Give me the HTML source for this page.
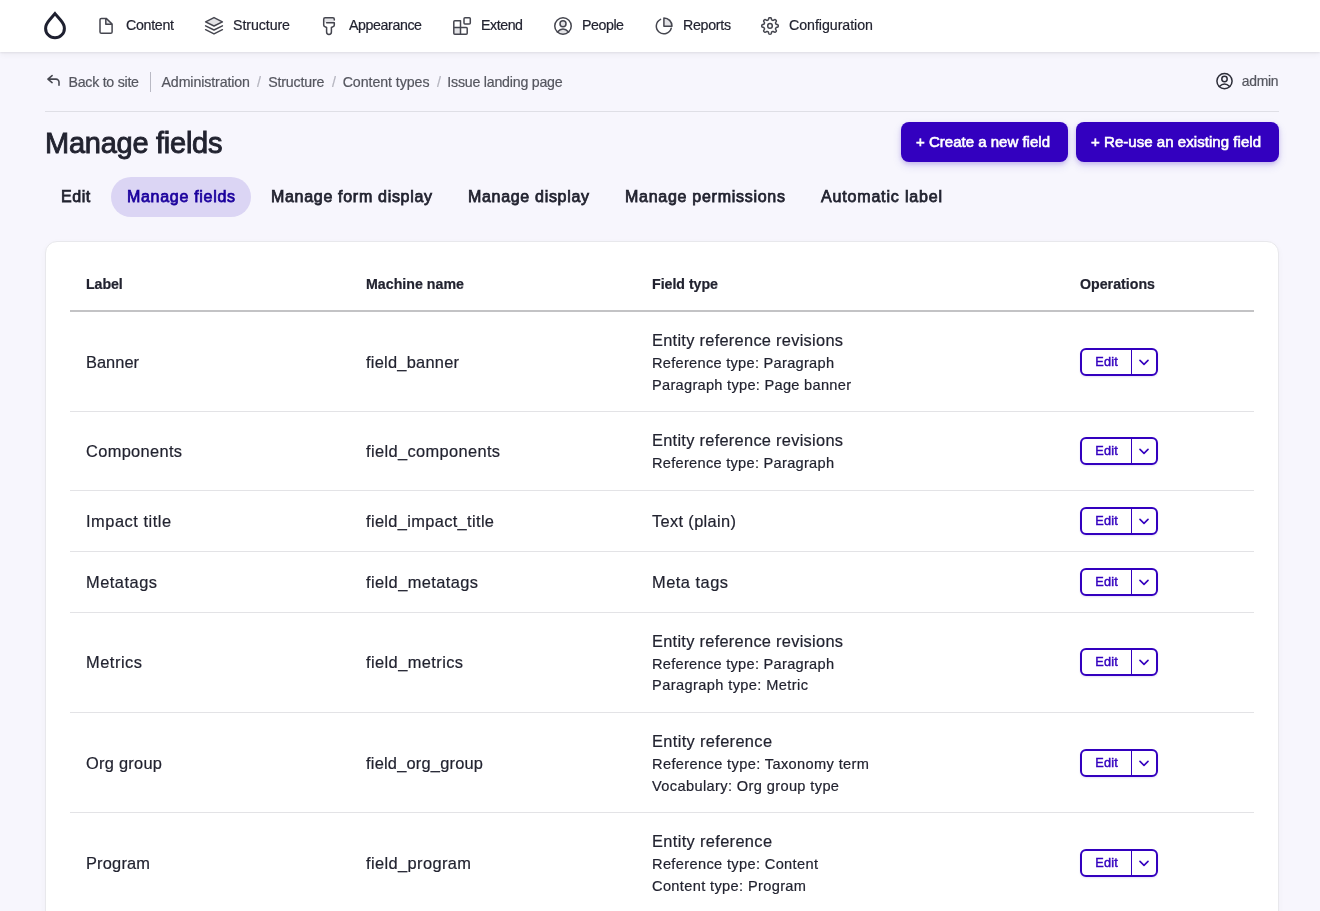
<!DOCTYPE html>
<html lang="en"><head><meta charset="utf-8"><title>Manage fields | Issue landing page</title>
<style>
html,body{margin:0;padding:0}
body{width:1320px;height:911px;overflow:hidden;position:relative;background:#f7f6fd;
 font-family:"Liberation Sans",Arial,sans-serif;color:#222330}
.t{position:absolute;white-space:nowrap;display:block;-webkit-text-stroke:0.2px currentColor}
#txt{position:absolute;left:0;top:0;width:1320px;height:911px;will-change:transform;transform:translateZ(0)}
.toolbar{position:absolute;left:0;top:0;width:1320px;height:52px;background:#fff;
 box-shadow:0 1px 2px rgba(10,10,20,.075),0 3px 6px rgba(10,10,20,.04)}
.hr{position:absolute;left:45px;top:111px;width:1234px;height:1px;background:#dfdfe6}
.vsep{position:absolute;left:150px;top:72px;width:1px;height:20px;background:#b9b9c4}
.btn{position:absolute;top:122px;height:40px;background:#3300bf;border-radius:8px;
 box-shadow:0 2px 4px rgba(51,0,191,.18),0 4px 10px rgba(51,0,191,.12)}
.pill{position:absolute;left:111px;top:177px;width:140px;height:40px;border-radius:20px;background:#dbd5f4}
.card{position:absolute;left:45px;top:241px;width:1232px;height:700px;background:#fff;border:1px solid #e8e8ec;
 border-radius:12px;box-shadow:0 2px 6px rgba(20,20,40,.035)}
.hb{position:absolute;left:70px;top:310px;width:1184px;height:2px;background:#c3c3c5}
.rb{position:absolute;left:70px;width:1184px;height:1px;background:#e3e3e6}
.db{position:absolute;left:1080px;width:74px;height:24px;border:2px solid #3300bf;border-radius:6px;background:#fff;
 box-shadow:0 1px 2px rgba(51,0,191,.12)}
.db .dv{position:absolute;left:49px;top:0;width:1.2px;height:24px;background:#3300bf}
.db .ch{position:absolute;left:57px;top:9px}
svg.ic{position:absolute;overflow:visible}
</style></head>
<body>
<div class="toolbar"></div>
<div class="hr"></div><div class="vsep"></div>
<div class="btn" style="left:901px;width:167px"></div>
<div class="btn" style="left:1076px;width:203px"></div>
<div class="pill"></div>
<div class="card"></div>
<div class="hb"></div>
<div class="rb" style="top:411px"></div>
<div class="db" style="top:348px"><i class="dv"></i><svg class="ch" viewBox="0 0 12 8" width="10" height="7"><path d="M1.2 1.5 6 6.2 10.8 1.5" fill="none" stroke="#3300bf" stroke-width="1.9" stroke-linecap="round" stroke-linejoin="round"/></svg></div>
<div class="rb" style="top:490px"></div>
<div class="db" style="top:437px"><i class="dv"></i><svg class="ch" viewBox="0 0 12 8" width="10" height="7"><path d="M1.2 1.5 6 6.2 10.8 1.5" fill="none" stroke="#3300bf" stroke-width="1.9" stroke-linecap="round" stroke-linejoin="round"/></svg></div>
<div class="rb" style="top:551px"></div>
<div class="db" style="top:507px"><i class="dv"></i><svg class="ch" viewBox="0 0 12 8" width="10" height="7"><path d="M1.2 1.5 6 6.2 10.8 1.5" fill="none" stroke="#3300bf" stroke-width="1.9" stroke-linecap="round" stroke-linejoin="round"/></svg></div>
<div class="rb" style="top:612px"></div>
<div class="db" style="top:568px"><i class="dv"></i><svg class="ch" viewBox="0 0 12 8" width="10" height="7"><path d="M1.2 1.5 6 6.2 10.8 1.5" fill="none" stroke="#3300bf" stroke-width="1.9" stroke-linecap="round" stroke-linejoin="round"/></svg></div>
<div class="rb" style="top:712px"></div>
<div class="db" style="top:648px"><i class="dv"></i><svg class="ch" viewBox="0 0 12 8" width="10" height="7"><path d="M1.2 1.5 6 6.2 10.8 1.5" fill="none" stroke="#3300bf" stroke-width="1.9" stroke-linecap="round" stroke-linejoin="round"/></svg></div>
<div class="rb" style="top:812px"></div>
<div class="db" style="top:749px"><i class="dv"></i><svg class="ch" viewBox="0 0 12 8" width="10" height="7"><path d="M1.2 1.5 6 6.2 10.8 1.5" fill="none" stroke="#3300bf" stroke-width="1.9" stroke-linecap="round" stroke-linejoin="round"/></svg></div>
<div class="db" style="top:849px"><i class="dv"></i><svg class="ch" viewBox="0 0 12 8" width="10" height="7"><path d="M1.2 1.5 6 6.2 10.8 1.5" fill="none" stroke="#3300bf" stroke-width="1.9" stroke-linecap="round" stroke-linejoin="round"/></svg></div>
<svg class="ic" width="1320" height="120" viewBox="0 0 1320 120" style="left:0;top:0" fill="none" stroke="#45464f" stroke-width="1.5" stroke-linecap="round" stroke-linejoin="round"><path d="M55 13.6 L60.3 19.8 C62.6 22.4 64.4 24.7 64.4 28.4 A9.4 9.4 0 0 1 45.6 28.4 C45.6 24.7 47.4 22.4 49.7 19.8Z" stroke="#1e2030" stroke-width="3" stroke-linejoin="miter" stroke-miterlimit="6"/><path d="M105.8 18.4 V24.2 H112.1 Z" fill="#e3e3e6" stroke="none"/><path d="M101.4 18.4 H106.2 L112.1 24 V31.9 A1.4 1.4 0 0 1 110.7 33.3 H101.4 A1.4 1.4 0 0 1 100 31.9 V19.8 A1.4 1.4 0 0 1 101.4 18.4Z M105.8 18.6 V24.2 H111.9"/><path d="M214 17.6 L222.4 21.8 L214 26 L205.6 21.8Z" fill="#e3e3e6"/><path d="M205.6 25.8 L214 30 L222.4 25.8 M205.6 29.7 L214 33.9 L222.4 29.7"/><path d="M324 18.2 H334 V22.4 H324Z" fill="#e3e3e6" stroke="none"/><path d="M334.3 20 V19.2 A1.4 1.4 0 0 0 332.9 17.8 H325.1 A1.4 1.4 0 0 0 323.7 19.2 V25 C323.7 25.8 324.1 26.3 324.8 26.6 L326.6 27.5 V32.1 A2.4 2.4 0 0 0 331.4 32.1 V27.5 L333.2 26.6 C333.9 26.3 334.3 25.8 334.3 25 V22.7 H326.6"/><path d="M453.8 27.6 H460.5 V34.3 H453.8Z" fill="#e3e3e6" stroke="none"/><path d="M454.8 20.8 H460.5 V27.6 H466.2 A1 1 0 0 1 467.2 28.6 V33.3 A1 1 0 0 1 466.2 34.3 H454.8 A1 1 0 0 1 453.8 33.3 V21.8 A1 1 0 0 1 454.8 20.8Z M453.8 27.6 H460.5 V34.3"/><rect x="464" y="17.8" width="6.3" height="6.3" rx="1"/><circle cx="563" cy="23.77" r="3" fill="#e3e3e6"/><path d="M557.39 31.94 Q563 26.16 568.61 31.94 Q563 36.56 557.39 31.94Z" fill="#e3e3e6" stroke="none"/><path d="M557.39 31.94 Q563 26.16 568.61 31.94"/><circle cx="563" cy="26" r="8.25"/><path d="M663.9 17.9 V26.2 H672 A8.2 8.2 0 0 0 663.9 17.9Z" fill="#e3e3e6"/><path d="M660.57 19.37 A7.6 7.6 0 1 0 671.21 28.29"/><path d="M778.25 25.90 L778.24 26.12 L778.22 26.33 L778.18 26.54 L778.09 26.75 L777.94 26.95 L777.68 27.12 L777.29 27.25 L776.83 27.35 L776.44 27.45 L776.17 27.55 L776.00 27.68 L775.90 27.82 L775.81 27.96 L775.75 28.11 L775.68 28.25 L775.62 28.40 L775.57 28.56 L775.52 28.71 L775.50 28.89 L775.53 29.09 L775.64 29.36 L775.86 29.70 L776.11 30.10 L776.29 30.47 L776.36 30.78 L776.32 31.02 L776.24 31.23 L776.12 31.41 L775.98 31.58 L775.83 31.73 L775.68 31.88 L775.51 32.02 L775.33 32.14 L775.12 32.22 L774.88 32.26 L774.57 32.19 L774.20 32.01 L773.80 31.76 L773.46 31.54 L773.19 31.43 L772.99 31.40 L772.81 31.42 L772.66 31.47 L772.50 31.52 L772.35 31.58 L772.21 31.65 L772.06 31.71 L771.92 31.80 L771.78 31.90 L771.65 32.07 L771.55 32.34 L771.45 32.73 L771.35 33.19 L771.22 33.58 L771.05 33.84 L770.85 33.99 L770.64 34.08 L770.43 34.12 L770.22 34.14 L770.00 34.15 L769.78 34.14 L769.57 34.12 L769.36 34.08 L769.15 33.99 L768.95 33.84 L768.78 33.58 L768.65 33.19 L768.55 32.73 L768.45 32.34 L768.35 32.07 L768.22 31.90 L768.08 31.80 L767.94 31.71 L767.79 31.65 L767.65 31.58 L767.50 31.52 L767.34 31.47 L767.19 31.42 L767.01 31.40 L766.81 31.43 L766.54 31.54 L766.20 31.76 L765.80 32.01 L765.43 32.19 L765.12 32.26 L764.88 32.22 L764.67 32.14 L764.49 32.02 L764.32 31.88 L764.17 31.73 L764.02 31.58 L763.88 31.41 L763.76 31.23 L763.68 31.02 L763.64 30.78 L763.71 30.47 L763.89 30.10 L764.14 29.70 L764.36 29.36 L764.47 29.09 L764.50 28.89 L764.48 28.71 L764.43 28.56 L764.38 28.40 L764.32 28.25 L764.25 28.11 L764.19 27.96 L764.10 27.82 L764.00 27.68 L763.83 27.55 L763.56 27.45 L763.17 27.35 L762.71 27.25 L762.32 27.12 L762.06 26.95 L761.91 26.75 L761.82 26.54 L761.78 26.33 L761.76 26.12 L761.75 25.90 L761.76 25.68 L761.78 25.47 L761.82 25.26 L761.91 25.05 L762.06 24.85 L762.32 24.68 L762.71 24.55 L763.17 24.45 L763.56 24.35 L763.83 24.25 L764.00 24.12 L764.10 23.98 L764.19 23.84 L764.25 23.69 L764.32 23.55 L764.38 23.40 L764.43 23.24 L764.48 23.09 L764.50 22.91 L764.47 22.71 L764.36 22.44 L764.14 22.10 L763.89 21.70 L763.71 21.33 L763.64 21.02 L763.68 20.78 L763.76 20.57 L763.88 20.39 L764.02 20.22 L764.17 20.07 L764.32 19.92 L764.49 19.78 L764.67 19.66 L764.88 19.58 L765.12 19.54 L765.43 19.61 L765.80 19.79 L766.20 20.04 L766.54 20.26 L766.81 20.37 L767.01 20.40 L767.19 20.38 L767.34 20.33 L767.50 20.28 L767.65 20.22 L767.79 20.15 L767.94 20.09 L768.08 20.00 L768.22 19.90 L768.35 19.73 L768.45 19.46 L768.55 19.07 L768.65 18.61 L768.78 18.22 L768.95 17.96 L769.15 17.81 L769.36 17.72 L769.57 17.68 L769.78 17.66 L770.00 17.65 L770.22 17.66 L770.43 17.68 L770.64 17.72 L770.85 17.81 L771.05 17.96 L771.22 18.22 L771.35 18.61 L771.45 19.07 L771.55 19.46 L771.65 19.73 L771.78 19.90 L771.92 20.00 L772.06 20.09 L772.21 20.15 L772.35 20.22 L772.50 20.28 L772.66 20.33 L772.81 20.38 L772.99 20.40 L773.19 20.37 L773.46 20.26 L773.80 20.04 L774.20 19.79 L774.57 19.61 L774.88 19.54 L775.12 19.58 L775.33 19.66 L775.51 19.78 L775.68 19.92 L775.83 20.07 L775.98 20.22 L776.12 20.39 L776.24 20.57 L776.32 20.78 L776.36 21.02 L776.29 21.33 L776.11 21.70 L775.86 22.10 L775.64 22.44 L775.53 22.71 L775.50 22.91 L775.52 23.09 L775.57 23.24 L775.62 23.40 L775.68 23.55 L775.75 23.69 L775.81 23.84 L775.90 23.98 L776.00 24.12 L776.17 24.25 L776.44 24.35 L776.83 24.45 L777.29 24.55 L777.68 24.68 L777.94 24.85 L778.09 25.05 L778.18 25.26 L778.22 25.47 L778.24 25.68Z"/><circle cx="770" cy="25.9" r="2.3"/><path d="M52.1 75.6 L47.9 79.1 L52.1 82.6 M48.2 79.1 H56 A3 3 0 0 1 59 82.1 V85.3" stroke-width="1.55"/><circle cx="1224.5" cy="79.05" r="2.7" fill="none" stroke="#2d2e39"/><path d="M1219.33 86.57 Q1224.5 81.25 1229.67 86.57 Q1224.5 90.83 1219.33 86.57Z" fill="none" stroke="none"/><path d="M1219.33 86.57 Q1224.5 81.25 1229.67 86.57" stroke="#2d2e39"/><circle cx="1224.5" cy="81.1" r="7.6" stroke="#2d2e39"/></svg>
<div id="txt">
<span class="t" id="t0" style="left:126px;top:12.6px;font-size:14.2px;line-height:24px;font-weight:400;color:#222330;letter-spacing:-0.284px;">Content</span>
<span class="t" id="t1" style="left:233px;top:12.6px;font-size:14.2px;line-height:24px;font-weight:400;color:#222330;letter-spacing:-0.070px;">Structure</span>
<span class="t" id="t2" style="left:349px;top:12.6px;font-size:14.2px;line-height:24px;font-weight:400;color:#222330;letter-spacing:-0.391px;">Appearance</span>
<span class="t" id="t3" style="left:481px;top:12.6px;font-size:14.2px;line-height:24px;font-weight:400;color:#222330;letter-spacing:-0.434px;">Extend</span>
<span class="t" id="t4" style="left:582px;top:12.6px;font-size:14.2px;line-height:24px;font-weight:400;color:#222330;letter-spacing:-0.438px;">People</span>
<span class="t" id="t5" style="left:683px;top:12.6px;font-size:14.2px;line-height:24px;font-weight:400;color:#222330;letter-spacing:-0.281px;">Reports</span>
<span class="t" id="t6" style="left:789px;top:12.6px;font-size:14.2px;line-height:24px;font-weight:400;color:#222330;letter-spacing:-0.034px;">Configuration</span>
<span class="t" id="t7" style="left:68.5px;top:70px;font-size:14.2px;line-height:24px;font-weight:400;color:#55565f;letter-spacing:-0.259px;">Back to site</span>
<span class="t" id="t8" style="left:161.5px;top:70px;font-size:14.2px;line-height:24px;font-weight:400;color:#55565f;letter-spacing:-0.108px;">Administration</span>
<span class="t" id="t9" style="left:257px;top:70px;font-size:14.2px;line-height:24px;font-weight:400;color:#b4b4be;letter-spacing:0.000px;">/</span>
<span class="t" id="t10" style="left:268.2px;top:70px;font-size:14.2px;line-height:24px;font-weight:400;color:#55565f;letter-spacing:-0.158px;">Structure</span>
<span class="t" id="t11" style="left:332px;top:70px;font-size:14.2px;line-height:24px;font-weight:400;color:#b4b4be;letter-spacing:0.000px;">/</span>
<span class="t" id="t12" style="left:342.7px;top:70px;font-size:14.2px;line-height:24px;font-weight:400;color:#55565f;letter-spacing:-0.062px;">Content types</span>
<span class="t" id="t13" style="left:437px;top:70px;font-size:14.2px;line-height:24px;font-weight:400;color:#b4b4be;letter-spacing:0.000px;">/</span>
<span class="t" id="t14" style="left:447.3px;top:70px;font-size:14.2px;line-height:24px;font-weight:400;color:#55565f;letter-spacing:-0.219px;">Issue landing page</span>
<span class="t" id="t15" style="left:1241.8px;top:69.2px;font-size:13.9px;line-height:24px;font-weight:400;color:#55565f;letter-spacing:-0.311px;">admin</span>
<span class="t" id="t16" style="left:45px;top:131px;font-size:29px;line-height:24px;font-weight:400;color:#222330;letter-spacing:-0.255px;-webkit-text-stroke:0.9px #222330;">Manage fields</span>
<span class="t" id="t17" style="left:916px;top:130px;font-size:15px;line-height:24px;font-weight:400;color:#fff;letter-spacing:0.009px;-webkit-text-stroke:0.6px #fff;">+ Create a new field</span>
<span class="t" id="t18" style="left:1091px;top:130px;font-size:15px;line-height:24px;font-weight:400;color:#fff;letter-spacing:0.046px;-webkit-text-stroke:0.6px #fff;">+ Re-use an existing field</span>
<span class="t" id="t19" style="left:61px;top:184.5px;font-size:16px;line-height:24px;font-weight:400;color:#222330;letter-spacing:0.574px;-webkit-text-stroke:0.75px #222330;">Edit</span>
<span class="t" id="t20" style="left:127px;top:184.5px;font-size:16px;line-height:24px;font-weight:400;color:#1b009d;letter-spacing:0.698px;-webkit-text-stroke:0.75px #1b009d;">Manage fields</span>
<span class="t" id="t21" style="left:271px;top:184.5px;font-size:16px;line-height:24px;font-weight:400;color:#222330;letter-spacing:0.694px;-webkit-text-stroke:0.75px #222330;">Manage form display</span>
<span class="t" id="t22" style="left:468px;top:184.5px;font-size:16px;line-height:24px;font-weight:400;color:#222330;letter-spacing:0.686px;-webkit-text-stroke:0.75px #222330;">Manage display</span>
<span class="t" id="t23" style="left:625px;top:184.5px;font-size:16px;line-height:24px;font-weight:400;color:#222330;letter-spacing:0.728px;-webkit-text-stroke:0.75px #222330;">Manage permissions</span>
<span class="t" id="t24" style="left:821px;top:184.5px;font-size:16px;line-height:24px;font-weight:400;color:#222330;letter-spacing:0.829px;-webkit-text-stroke:0.75px #222330;">Automatic label</span>
<span class="t" id="t25" style="left:86px;top:272px;font-size:14.2px;line-height:24px;font-weight:700;color:#222330;letter-spacing:-0.066px;">Label</span>
<span class="t" id="t26" style="left:366px;top:272px;font-size:14.2px;line-height:24px;font-weight:700;color:#222330;letter-spacing:0.020px;">Machine name</span>
<span class="t" id="t27" style="left:652px;top:272px;font-size:14.2px;line-height:24px;font-weight:700;color:#222330;letter-spacing:-0.026px;">Field type</span>
<span class="t" id="t28" style="left:1080px;top:272px;font-size:14.2px;line-height:24px;font-weight:700;color:#222330;letter-spacing:0.010px;">Operations</span>
<span class="t" id="t29" style="left:86px;top:350.3px;font-size:16.4px;line-height:24px;font-weight:400;color:#222330;letter-spacing:0.028px;">Banner</span>
<span class="t" id="t30" style="left:366px;top:350.3px;font-size:16.4px;line-height:24px;font-weight:400;color:#222330;letter-spacing:0.251px;">field_banner</span>
<span class="t" id="t31" style="left:652px;top:328.3px;font-size:16.4px;line-height:24px;font-weight:400;color:#222330;letter-spacing:0.279px;">Entity reference revisions</span>
<span class="t" id="t32" style="left:652px;top:350.8px;font-size:14.6px;line-height:24px;font-weight:400;color:#222330;letter-spacing:0.282px;">Reference type: Paragraph</span>
<span class="t" id="t33" style="left:652px;top:372.8px;font-size:14.6px;line-height:24px;font-weight:400;color:#222330;letter-spacing:0.289px;">Paragraph type: Page banner</span>
<span class="t" id="t34" style="left:1095.3px;top:350.4px;font-size:12.7px;line-height:24px;font-weight:400;color:#3300bf;letter-spacing:0.208px;-webkit-text-stroke:0.45px #3300bf;">Edit</span>
<span class="t" id="t35" style="left:86px;top:439.3px;font-size:16.4px;line-height:24px;font-weight:400;color:#222330;letter-spacing:0.340px;">Components</span>
<span class="t" id="t36" style="left:366px;top:439.3px;font-size:16.4px;line-height:24px;font-weight:400;color:#222330;letter-spacing:0.368px;">field_components</span>
<span class="t" id="t37" style="left:652px;top:428.3px;font-size:16.4px;line-height:24px;font-weight:400;color:#222330;letter-spacing:0.279px;">Entity reference revisions</span>
<span class="t" id="t38" style="left:652px;top:450.8px;font-size:14.6px;line-height:24px;font-weight:400;color:#222330;letter-spacing:0.282px;">Reference type: Paragraph</span>
<span class="t" id="t39" style="left:1095.3px;top:439.4px;font-size:12.7px;line-height:24px;font-weight:400;color:#3300bf;letter-spacing:0.208px;-webkit-text-stroke:0.45px #3300bf;">Edit</span>
<span class="t" id="t40" style="left:86px;top:509.3px;font-size:16.4px;line-height:24px;font-weight:400;color:#222330;letter-spacing:0.523px;">Impact title</span>
<span class="t" id="t41" style="left:366px;top:509.3px;font-size:16.4px;line-height:24px;font-weight:400;color:#222330;letter-spacing:0.347px;">field_impact_title</span>
<span class="t" id="t42" style="left:652px;top:509.3px;font-size:16.4px;line-height:24px;font-weight:400;color:#222330;letter-spacing:0.348px;">Text (plain)</span>
<span class="t" id="t43" style="left:1095.3px;top:509.4px;font-size:12.7px;line-height:24px;font-weight:400;color:#3300bf;letter-spacing:0.208px;-webkit-text-stroke:0.45px #3300bf;">Edit</span>
<span class="t" id="t44" style="left:86px;top:570.3px;font-size:16.4px;line-height:24px;font-weight:400;color:#222330;letter-spacing:0.511px;">Metatags</span>
<span class="t" id="t45" style="left:366px;top:570.3px;font-size:16.4px;line-height:24px;font-weight:400;color:#222330;letter-spacing:0.415px;">field_metatags</span>
<span class="t" id="t46" style="left:652px;top:570.3px;font-size:16.4px;line-height:24px;font-weight:400;color:#222330;letter-spacing:0.502px;">Meta tags</span>
<span class="t" id="t47" style="left:1095.3px;top:570.4px;font-size:12.7px;line-height:24px;font-weight:400;color:#3300bf;letter-spacing:0.208px;-webkit-text-stroke:0.45px #3300bf;">Edit</span>
<span class="t" id="t48" style="left:86px;top:650.3px;font-size:16.4px;line-height:24px;font-weight:400;color:#222330;letter-spacing:0.529px;">Metrics</span>
<span class="t" id="t49" style="left:366px;top:650.3px;font-size:16.4px;line-height:24px;font-weight:400;color:#222330;letter-spacing:0.417px;">field_metrics</span>
<span class="t" id="t50" style="left:652px;top:629.3px;font-size:16.4px;line-height:24px;font-weight:400;color:#222330;letter-spacing:0.279px;">Entity reference revisions</span>
<span class="t" id="t51" style="left:652px;top:651.8px;font-size:14.6px;line-height:24px;font-weight:400;color:#222330;letter-spacing:0.282px;">Reference type: Paragraph</span>
<span class="t" id="t52" style="left:652px;top:672.8px;font-size:14.6px;line-height:24px;font-weight:400;color:#222330;letter-spacing:0.398px;">Paragraph type: Metric</span>
<span class="t" id="t53" style="left:1095.3px;top:650.4px;font-size:12.7px;line-height:24px;font-weight:400;color:#3300bf;letter-spacing:0.208px;-webkit-text-stroke:0.45px #3300bf;">Edit</span>
<span class="t" id="t54" style="left:86px;top:751.3px;font-size:16.4px;line-height:24px;font-weight:400;color:#222330;letter-spacing:0.273px;">Org group</span>
<span class="t" id="t55" style="left:366px;top:751.3px;font-size:16.4px;line-height:24px;font-weight:400;color:#222330;letter-spacing:0.220px;">field_org_group</span>
<span class="t" id="t56" style="left:652px;top:729.3px;font-size:16.4px;line-height:24px;font-weight:400;color:#222330;letter-spacing:0.347px;">Entity reference</span>
<span class="t" id="t57" style="left:652px;top:751.8px;font-size:14.6px;line-height:24px;font-weight:400;color:#222330;letter-spacing:0.372px;">Reference type: Taxonomy term</span>
<span class="t" id="t58" style="left:652px;top:773.8px;font-size:14.6px;line-height:24px;font-weight:400;color:#222330;letter-spacing:0.373px;">Vocabulary: Org group type</span>
<span class="t" id="t59" style="left:1095.3px;top:751.4px;font-size:12.7px;line-height:24px;font-weight:400;color:#3300bf;letter-spacing:0.208px;-webkit-text-stroke:0.45px #3300bf;">Edit</span>
<span class="t" id="t60" style="left:86px;top:851.3px;font-size:16.4px;line-height:24px;font-weight:400;color:#222330;letter-spacing:0.190px;">Program</span>
<span class="t" id="t61" style="left:366px;top:851.3px;font-size:16.4px;line-height:24px;font-weight:400;color:#222330;letter-spacing:0.398px;">field_program</span>
<span class="t" id="t62" style="left:652px;top:829.3px;font-size:16.4px;line-height:24px;font-weight:400;color:#222330;letter-spacing:0.347px;">Entity reference</span>
<span class="t" id="t63" style="left:652px;top:851.8px;font-size:14.6px;line-height:24px;font-weight:400;color:#222330;letter-spacing:0.354px;">Reference type: Content</span>
<span class="t" id="t64" style="left:652px;top:873.8px;font-size:14.6px;line-height:24px;font-weight:400;color:#222330;letter-spacing:0.359px;">Content type: Program</span>
<span class="t" id="t65" style="left:1095.3px;top:851.4px;font-size:12.7px;line-height:24px;font-weight:400;color:#3300bf;letter-spacing:0.208px;-webkit-text-stroke:0.45px #3300bf;">Edit</span>
</div>
</body></html>
